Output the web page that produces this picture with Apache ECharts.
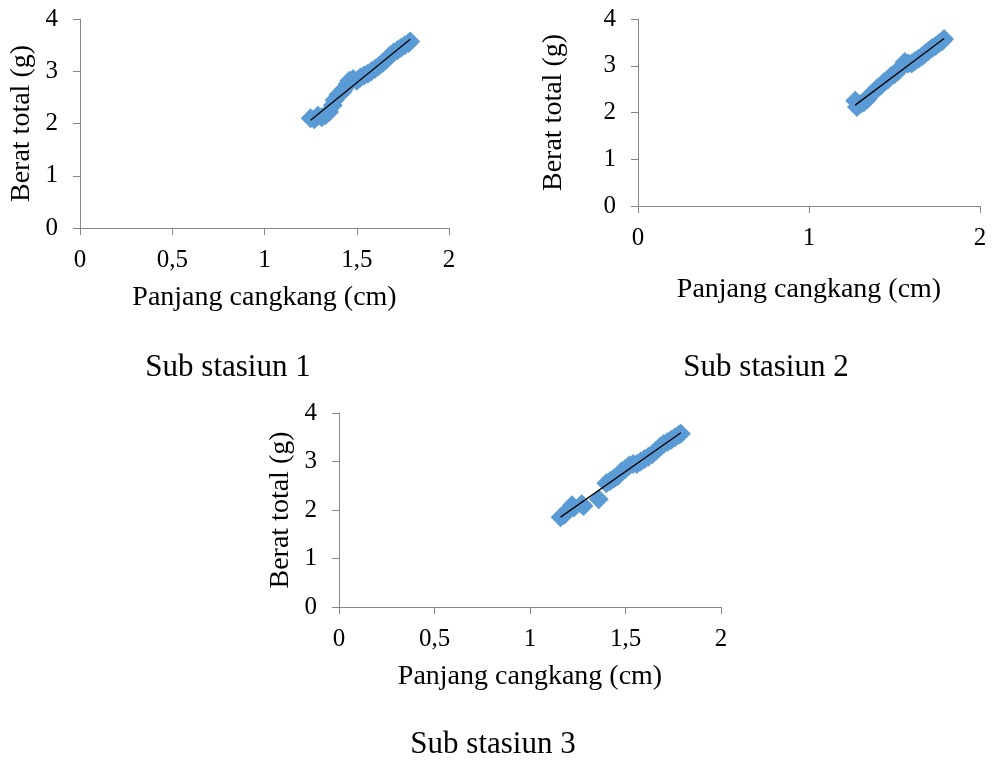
<!DOCTYPE html>
<html>
<head>
<meta charset="utf-8">
<script src="https://cdn.jsdelivr.net/npm/echarts@6/dist/echarts.min.js"></script>
<style>
html,body{margin:0;padding:0;background:#fff;}
#chart{width:992px;height:762px;}
</style>
</head>
<body>
<div id="chart"></div>
<script>
// ---- data ----
const subTitles = ['Sub stasiun 1', 'Sub stasiun 2', 'Sub stasiun 3'];
const xAxisTitle = 'Panjang cangkang (cm)';
const yAxisTitle = 'Berat total (g)';
const yTicks = [0, 1, 2, 3, 4];
const xTicks13 = [0, 0.5, 1, 1.5, 2];
const xTicks2 = [0, 1, 2];

const s1X = [1.25, 1.27, 1.29, 1.31, 1.33, 1.35, 1.37, 1.38, 1.40, 1.42, 1.43, 1.45, 1.46, 1.48, 1.50, 1.52, 1.54, 1.56, 1.58, 1.60, 1.62, 1.64, 1.66, 1.68, 1.70, 1.72, 1.74, 1.76, 1.78, 1.79];
const s1Y = [2.10, 2.08, 2.15, 2.12, 2.16, 2.22, 2.35, 2.45, 2.55, 2.60, 2.65, 2.75, 2.82, 2.85, 2.82, 2.88, 2.92, 2.95, 3.00, 3.05, 3.10, 3.16, 3.22, 3.30, 3.36, 3.40, 3.45, 3.50, 3.54, 3.57];

const s2X = [1.27, 1.28, 1.30, 1.32, 1.34, 1.36, 1.38, 1.40, 1.42, 1.44, 1.46, 1.48, 1.50, 1.52, 1.54, 1.56, 1.58, 1.60, 1.62, 1.64, 1.66, 1.68, 1.70, 1.72, 1.74, 1.76, 1.78, 1.79];
const s2Y = [2.25, 2.12, 2.18, 2.22, 2.28, 2.38, 2.45, 2.52, 2.58, 2.65, 2.70, 2.78, 2.82, 2.88, 2.98, 3.08, 3.05, 3.05, 3.10, 3.15, 3.20, 3.26, 3.32, 3.38, 3.42, 3.48, 3.53, 3.57];

const s3X = [1.16, 1.18, 1.20, 1.22, 1.23, 1.27, 1.28, 1.36, 1.40, 1.42, 1.44, 1.46, 1.48, 1.50, 1.52, 1.54, 1.56, 1.58, 1.60, 1.62, 1.64, 1.66, 1.68, 1.70, 1.72, 1.74, 1.76, 1.78, 1.79];
const s3Y = [1.85, 1.90, 2.00, 2.10, 2.05, 2.12, 2.08, 2.22, 2.55, 2.60, 2.65, 2.70, 2.80, 2.85, 2.92, 2.95, 2.95, 3.00, 3.05, 3.10, 3.15, 3.22, 3.30, 3.36, 3.40, 3.45, 3.50, 3.55, 3.57];

// ---- helpers ----
function pairs(xs, ys) { return xs.map((x, i) => [x, ys[i]]); }
function trend(xs, ys) {
  const n = xs.length;
  const mx = xs.reduce((a, b) => a + b, 0) / n;
  const my = ys.reduce((a, b) => a + b, 0) / n;
  let sxy = 0, sxx = 0;
  for (let i = 0; i < n; i++) { sxy += (xs[i] - mx) * (ys[i] - my); sxx += (xs[i] - mx) * (xs[i] - mx); }
  const b = sxy / sxx, a = my - b * mx;
  const x0 = Math.min(...xs), x1 = Math.max(...xs);
  return [[x0, a + b * x0], [x1, a + b * x1]];
}
const FONT = '"Liberation Serif", "Times New Roman", serif';
const AX = '#868686';
const BLUE = '#5B9BD5';
const fmt = v => String(v).replace('.', ',');

const grids = [
  { left: 80, top: 19, width: 369, height: 209 },
  { left: 638, top: 19, width: 342, height: 187 },
  { left: 339, top: 413, width: 382, height: 194 }
];
const xNameGaps = [56, 70, 56];
const yNameGaps = [44, 70, 44];
const xTickSets = [xTicks13, xTicks2, xTicks13];

function xAxis(i) {
  const t = xTickSets[i];
  return {
    type: 'value', gridIndex: i, min: t[0], max: t[t.length - 1], interval: t[1] - t[0],
    name: xAxisTitle, nameLocation: 'middle', nameGap: xNameGaps[i],
    nameTextStyle: { fontFamily: FONT, fontSize: 28, color: '#000' },
    axisLine: { show: true, lineStyle: { color: AX, width: 1 } },
    axisTick: { show: true, length: 7, lineStyle: { color: AX } },
    axisLabel: { fontFamily: FONT, fontSize: 25, color: '#000', margin: 20, formatter: fmt },
    splitLine: { show: false }
  };
}
function yAxis(i) {
  return {
    type: 'value', gridIndex: i, min: yTicks[0], max: yTicks[yTicks.length - 1], interval: yTicks[1] - yTicks[0],
    name: yAxisTitle, nameLocation: 'middle', nameGap: yNameGaps[i],
    nameTextStyle: { fontFamily: FONT, fontSize: 28, color: '#000' },
    axisLine: { show: true, lineStyle: { color: AX, width: 1 } },
    axisTick: { show: true, length: 7, lineStyle: { color: AX } },
    axisLabel: { fontFamily: FONT, fontSize: 25, color: '#000', margin: 22, formatter: fmt },
    splitLine: { show: false }
  };
}

const sets = [[s1X, s1Y], [s2X, s2Y], [s3X, s3Y]];
const series = [];
sets.forEach((s, i) => {
  series.push({
    type: 'scatter', xAxisIndex: i, yAxisIndex: i, data: pairs(s[0], s[1]),
    symbol: 'diamond', symbolSize: 20, itemStyle: { color: BLUE, opacity: 1 }, z: 2, silent: true
  });
  series.push({
    type: 'line', xAxisIndex: i, yAxisIndex: i, data: trend(s[0], s[1]),
    symbol: 'none', lineStyle: { color: '#000', width: 1.3 }, z: 3, silent: true, animation: false
  });
});

const subPos = [[228, 368], [766, 368], [493, 745]];
const graphic = subTitles.map((t, i) => ({
  type: 'text', x: subPos[i][0], y: subPos[i][1],
  style: { text: t, fontFamily: FONT, fontSize: 31, fill: '#000', align: 'center', verticalAlign: 'middle' }
}));

const chart = echarts.init(document.getElementById('chart'), null, { renderer: 'canvas' });
chart.setOption({
  animation: false,
  backgroundColor: '#fff',
  grid: grids,
  xAxis: [0, 1, 2].map(xAxis),
  yAxis: [0, 1, 2].map(yAxis),
  series: series,
  graphic: graphic
});
</script>
</body>
</html>
